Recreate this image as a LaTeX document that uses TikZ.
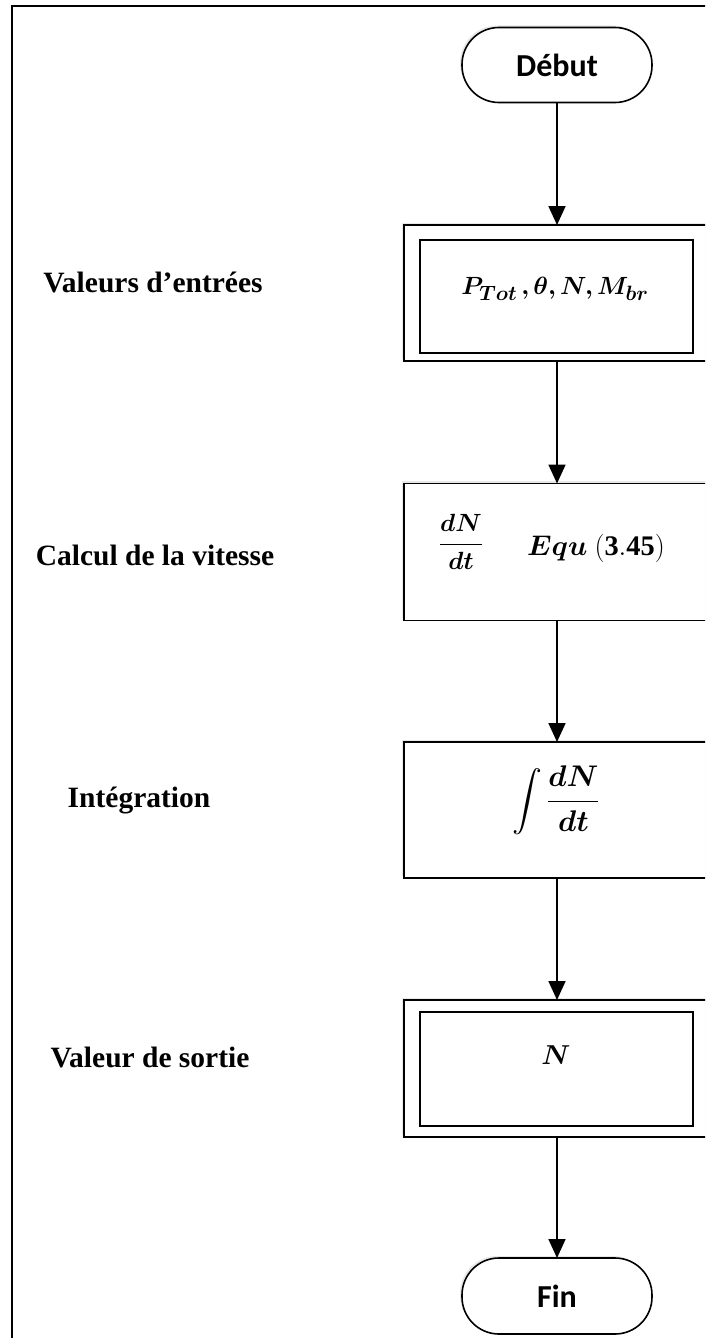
\documentclass[tikz,border=0pt]{standalone}
\usepackage{fontspec}
\usepackage{amsmath}
\usepackage{bm}
\setmainfont{Liberation Serif}
\newfontfamily\calib{Carlito}
\usetikzlibrary{arrows.meta,shadows}
\begin{document}
\begin{tikzpicture}[x=1pt,y=-1pt,
  every node/.style={inner sep=0pt,outer sep=0pt},
  frameline/.style={line width=2.6pt,line cap=rect},
  term/.style={draw,line width=1.6pt,fill=white,rounded corners=37pt,minimum width=190pt,minimum height=75pt,
     font=\calib\bfseries\fontsize{32}{36}\selectfont,
     drop shadow={shadow xshift=-2pt,shadow yshift=2pt,opacity=0.18}},
  outerbox/.style={draw,line width=1.6pt,fill=white,minimum width=306pt,minimum height=136pt,
     drop shadow={shadow xshift=-2.5pt,shadow yshift=2.5pt,opacity=0.18}},
  innerbox/.style={draw,line width=1.6pt,fill=white,minimum width=273pt,minimum height=113pt},
  mathtxt/.style={font=\fontsize{24.88}{30}\selectfont},
  label/.style={font=\bfseries\fontsize{29.5}{34}\selectfont},
  arr/.style={line width=1.8pt,-{Triangle[width=17pt,length=19pt]}}]
\useasboundingbox (0,0) rectangle (705,1338);
\clip (0,0) rectangle (705,1338);
\fill[white] (0,0) rectangle (705,1338);
% frame
\coordinate (fbl) at (12,1345);
\coordinate (ftl) at (12,6);
\coordinate (ftr) at (712,6);
\draw[frameline] (fbl) -- (ftl) -- (ftr);
% nodes
\node[term] (debut) at (557,65) {Début};
\node[outerbox] (b1) at (557,293) {};
\node[innerbox] (b1i) at (556.5,296.5) {};
\node[mathtxt] (t1) at (555,289) {$\bm{P_{Tot}\,,\theta,N,M_{br}}$};
\node[outerbox,minimum height=137pt] (b2) at (557,552) {};
\node[mathtxt] (t2a) at (461,542) {$\displaystyle\bm{\frac{dN}{dt}}$};
\node[mathtxt] (t2b) at (596,548) {\scalebox{1.14}{$\bm{Equ}\ \mathbf{(3.45)}$}};
\node[outerbox] (b3) at (557,810) {};
\node[mathtxt] (t3) at (556,800) {\scalebox{1.2}{$\displaystyle\int\bm{\frac{dN}{dt}}$}};
\node[outerbox,minimum height=137pt] (b4) at (557,1068.5) {};
\node[innerbox,minimum height=114pt] (b4i) at (556.5,1069) {};
\node[mathtxt] (t4) at (556,1055) {\scalebox{1.1}{$\bm{N}$}};
\node[term,minimum height=76pt] (fin) at (557,1296) {Fin};
% labels
\node[label] (l1) at (153,282) {Valeurs d’entrées};
\node[label] (l2) at (155,555) {Calcul de la vitesse};
\node[label] (l3) at (139,800) {Intégration};
\node[label] (l4) at (150,1057) {Valeur de sortie};
% arrows
\draw[arr] (debut) -- (b1);
\draw[arr] (b1) -- (b2);
\draw[arr] (b2) -- (b3);
\draw[arr] (b3) -- (b4);
\draw[arr] (b4) -- (fin);
\end{tikzpicture}
\end{document}
